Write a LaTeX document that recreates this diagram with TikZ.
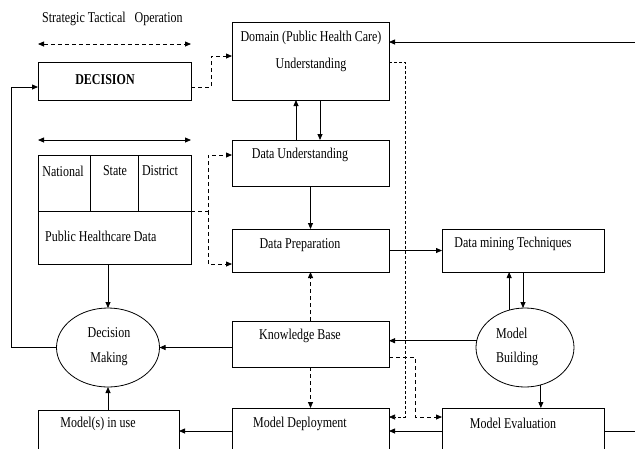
\documentclass[tikz,border=0pt]{standalone}
\usepackage{fontspec}
\setmainfont{Liberation Serif}[FakeStretch=0.8]
\usetikzlibrary{arrows.meta,calc,shapes.geometric}
\begin{document}
\begin{tikzpicture}[x=1pt,y=-1pt,
  box/.style={draw,line width=0.8pt,inner sep=0pt,outer sep=0pt,rectangle},
  ell/.style={draw,line width=0.8pt,inner sep=0pt,outer sep=0pt,ellipse},
  txt/.style={inner sep=0pt,font=\fontsize{15}{17}\selectfont},
  arr/.style={line width=0.8pt,-{Triangle[length=6pt,width=5pt]}},
  darr/.style={line width=0.8pt,dashed,dash pattern=on 4pt off 3pt,-{Triangle[length=6pt,width=5pt]}},
  farr/.style={line width=0.6pt,dash pattern=on 3pt off 2pt,-{Triangle[length=6pt,width=5pt]}}]
\clip (0,0) rectangle (635,448);
\fill[white] (0,0) rectangle (635,448);
% boxes
\node[box,minimum width=153pt,minimum height=38pt] (decision) at (114.5,81) {};
\node[box,minimum width=153pt,minimum height=109pt] (table) at (114.5,209.5) {};
\node[box,minimum width=157pt,minimum height=78pt] (dom) at (310.5,61) {};
\node[box,minimum width=157pt,minimum height=46pt] (du) at (310.5,163) {};
\node[box,minimum width=157pt,minimum height=43pt] (dp) at (310.5,250.5) {};
\node[box,minimum width=157pt,minimum height=46pt] (kb) at (310.5,344) {};
\node[box,minimum width=157pt,minimum height=62pt] (md) at (310.5,439) {};
\node[box,minimum width=162pt,minimum height=43pt] (dmt) at (523,250.5) {};
\node[box,minimum width=162pt,minimum height=62pt] (me) at (523,439) {};
\node[box,minimum width=141pt,minimum height=60pt] (miu) at (108.5,440) {};
\node[ell,minimum width=103pt,minimum height=79pt] (dm) at (108,347.5) {};
\node[ell,minimum width=98pt,minimum height=79pt] (mb) at (525,347.5) {};
% table inner lines
\coordinate (tl) at ($(table.west)+(0,1.5)$);
\draw[line width=0.8pt] (tl) -- (tl -| table.east);
\draw[line width=0.8pt] ($(table.north west)+(52,0)$) -- ($(tl)+(52,0)$);
\draw[line width=0.8pt] ($(table.north west)+(100,0)$) -- ($(tl)+(100,0)$);
% texts
\node[txt,anchor=west] (stl) at (42,19) {Strategic Tactical \ \ Operation};
\node[txt,font=\fontsize{15}{17}\selectfont\bfseries] (dect) at (105,80) {DECISION};
\node[txt] (nat) at (63,171) {National};
\node[txt] (sta) at (115,171) {State};
\node[txt] (dis) at (160,171) {District};
\node[txt,anchor=west] (phd) at (45,236) {Public Healthcare Data};
\node[txt] (domt1) at (311,38) {Domain (Public Health Care)};
\node[txt] (domt2) at (311,65) {Understanding};
\node[txt] (dut) at (300,155) {Data Understanding};
\node[txt] (dpt) at (300,245) {Data Preparation};
\node[txt] (kbt) at (300,336) {Knowledge Base};
\node[txt] (mdt) at (300,424) {Model Deployment};
\node[txt] (dmtt) at (513,244) {Data mining Techniques};
\node[txt,anchor=west] (mbt1) at (496,333) {Model};
\node[txt,anchor=west] (mbt2) at (496,359) {Building};
\node[txt] (met) at (513,423) {Model Evaluation};
\node[txt] (dmt1) at (109,333) {Decision};
\node[txt] (dmt2) at (109,359) {Making};
\node[txt] (miut) at (98,424) {Model(s) in use};
% double arrows
\coordinate (da1) at ($(decision.north west)+(0,-18)$);
\coordinate (da2) at ($(decision.north east)+(0,-18)$);
\draw[line width=0.8pt,dash pattern=on 4pt off 3pt,{Triangle[length=6pt,width=5pt]}-{Triangle[length=6pt,width=5pt]}] (da1) -- (da2);
\coordinate (sa1) at ($(table.north west)+(0,-15)$);
\coordinate (sa2) at ($(table.north east)+(0,-15)$);
\draw[line width=0.8pt,{Triangle[length=6pt,width=5pt]}-{Triangle[length=6pt,width=5pt]}] (sa1) -- (sa2);
% solid connectors
\draw[arr] ($(du.north)+(-14.5,0)$) -- ($(dom.south)+(-14.5,0)$);
\draw[arr] ($(dom.south)+(9.5,0)$) -- ($(du.north)+(9.5,0)$);
\draw[arr] (du.south) -- (dp.north);
\draw[arr] (dp.east) -- (dp.east -| dmt.west);
\draw[arr] (mb.113) -- (mb.113 |- dmt.south);
\draw[arr] (dmt.south) -- (dmt.south |- mb.north);
\draw[arr] (mb.293) -- (mb.293 |- me.north);
\draw[arr] (mb.172) -- (mb.172 -| kb.east);
\draw[arr] (kb.west |- dm.east) -- (dm.east);
\draw[arr] (table.south -| dm.north) -- (dm.north);
\draw[arr] (miu.north -| dm.south) -- (dm.south);
\draw[arr] ($(me.west)+(0,-8)$) -- ($(md.east)+(0,-8)$);
\draw[arr] ($(md.west)+(0,-8)$) -- ($(miu.east)+(0,-9)$);
\draw[arr] (dm.west) -- ++(-45,0) |- ($(decision.west)+(0,6)$);
\coordinate (rb) at (645,431);
\coordinate (rt) at (645,42);
\draw[arr] ($(me.east)+(0,-8)$) -- (rb) -- (rt) -- ($(dom.east)+(0,-19)$);
% dashed connectors
\draw[darr] ($(decision.east)+(0,6)$) -- ++(20,0) |- ($(dom.west)+(0,-5)$);
\coordinate (tj) at ($(tl -| table.east)+(17,0)$);
\draw[darr] (tl -| table.east) -- (tj) |- ($(du.west)+(0,-8)$);
\draw[darr] (tj) |- ($(dp.west)+(0,13.5)$);
\draw[darr] (kb.north) -- (dp.south);
\draw[darr] (kb.south) -- (md.north);
\draw[farr] ($(dom.east)+(0,1)$) -- ++(16,0) |- ($(md.east)+(0,-22)$);
\draw[darr] ($(kb.east)+(0,13)$) -- ++(26,0) |- ($(me.west)+(0,-22)$);
\end{tikzpicture}
\end{document}
